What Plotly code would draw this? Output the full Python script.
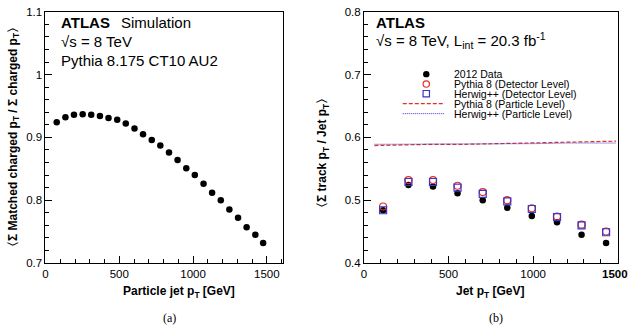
import plotly.graph_objects as go

# ---------------- data ----------------
# panel (a)
a_pt = [76, 135, 193, 252, 310, 369, 427, 486, 544, 603, 661, 720, 778,
        837, 895, 954, 1012, 1071, 1129, 1188, 1246, 1305, 1363, 1422, 1475]
a_ratio = [0.924, 0.932, 0.936, 0.937, 0.936, 0.934, 0.931, 0.928, 0.922,
           0.914, 0.905, 0.896, 0.887, 0.876, 0.864, 0.851, 0.840, 0.826,
           0.812, 0.800, 0.785, 0.772, 0.757, 0.745, 0.732]

# panel (b)
b_pt = [113, 263, 408, 553, 702, 847, 992, 1141, 1286, 1431]
b_data = [0.484, 0.524, 0.522, 0.511, 0.500, 0.488, 0.475, 0.465, 0.445, 0.432]
b_pythia_det = [0.490, 0.532, 0.532, 0.523, 0.513, 0.500, 0.487, 0.474, 0.461, 0.450]
b_herwig_det = [0.484, 0.529, 0.529, 0.520, 0.510, 0.498, 0.486, 0.473, 0.460, 0.449]

part_pt = [62, 200, 400, 600, 800, 1000, 1200, 1400, 1490]
b_pythia_part = [0.587, 0.588, 0.589, 0.589, 0.590, 0.591, 0.592, 0.593, 0.594]
b_herwig_part = [0.589, 0.589, 0.589, 0.590, 0.590, 0.590, 0.591, 0.591, 0.591]

legend_labels = ["2012 Data", "Pythia 8 (Detector Level)", "Herwig++ (Detector Level)",
                 "Pythia 8 (Particle Level)", "Herwig++ (Particle Level)"]

# ---------------- styling ----------------
W, H = 630, 330
SANS = "Liberation Sans, Arial, Helvetica, sans-serif"
SERIF = "Liberation Serif, Times New Roman, serif"
RED = "#e3302c"
BLUE = "#3b35c8"


def px(x):
    return x / W


def py(y):
    return 1 - y / H


fig = go.Figure()

# panel (a)
fig.add_trace(go.Scatter(x=a_pt, y=a_ratio, mode="markers", xaxis="x", yaxis="y",
                         marker=dict(color="black", size=6.5), showlegend=False))

# panel (b)
fig.add_trace(go.Scatter(x=part_pt, y=b_pythia_part, mode="lines", xaxis="x2", yaxis="y2",
                         line=dict(color=RED, width=1.2, dash="4px,2px"), showlegend=False,
                         name=legend_labels[3]))
fig.add_trace(go.Scatter(x=part_pt, y=b_herwig_part, mode="lines", xaxis="x2", yaxis="y2",
                         line=dict(color=BLUE, width=1, dash="1px,1px"), showlegend=False,
                         name=legend_labels[4]))
fig.add_trace(go.Scatter(x=b_pt, y=b_data, mode="markers", xaxis="x2", yaxis="y2",
                         marker=dict(color="black", size=6.5), showlegend=False,
                         name=legend_labels[0]))
fig.add_trace(go.Scatter(x=b_pt, y=b_pythia_det, mode="markers", xaxis="x2", yaxis="y2",
                         marker=dict(symbol="circle-open", color=RED, size=7,
                                     line=dict(width=1.2)), showlegend=False,
                         name=legend_labels[1]))
fig.add_trace(go.Scatter(x=b_pt, y=b_herwig_det, mode="markers", xaxis="x2", yaxis="y2",
                         marker=dict(symbol="square-open", color=BLUE, size=7,
                                     line=dict(width=1.2)), showlegend=False,
                         name=legend_labels[2]))

TICK_SIZE = 11.5
tickfont = dict(family=SANS, size=TICK_SIZE, color="black")


def xaxis(domain, rng, anchor):
    return dict(domain=domain, range=rng, anchor=anchor, showgrid=False, zeroline=False,
                showline=True, linecolor="black", linewidth=1, mirror=True,
                ticks="inside", ticklen=7, tickcolor="black", dtick=500, tick0=0,
                tickfont=tickfont, tickformat="d",
                minor=dict(ticks="inside", ticklen=4, dtick=100, tickcolor="black"))


def yaxis(domain, rng, anchor):
    return dict(domain=domain, range=rng, anchor=anchor, showgrid=False, zeroline=False,
                showline=True, linecolor="black", linewidth=1, mirror=True,
                ticks="inside", ticklen=7, tickcolor="black", dtick=0.1, tick0=0,
                tickfont=tickfont,
                minor=dict(ticks="inside", ticklen=4, dtick=0.02, tickcolor="black"))


ydom = [py(266.7), py(6)]
fig.update_layout(
    width=W, height=H, margin=dict(l=0, r=0, t=0, b=0),
    paper_bgcolor="white", plot_bgcolor="white",
    xaxis=xaxis([px(42.7), px(281.7)], [0, 1612], "y"),
    yaxis=yaxis(ydom, [0.7, 1.1], "x"),
    xaxis2=xaxis([px(362.7), px(617.7)], [0, 1500], "y2"),
    yaxis2=yaxis(ydom, [0.4, 0.8], "x2"),
    showlegend=False,
)

ann = []


def text(x, y, s, size, xanchor="left", family=SANS, angle=0):
    ann.append(dict(x=px(x), y=py(y), xref="paper", yref="paper", text=s, showarrow=False,
                    xanchor=xanchor, yanchor="middle", textangle=angle,
                    font=dict(family=family, size=size, color="black")))


# panel (a) labels
text(56, 16.7, "<b>ATLAS</b>", 15)
text(117, 16.7, "Simulation", 15)
text(56, 36.7, "√s = 8 TeV", 15)
text(56, 56.7, "Pythia 8.175 CT10 AU2", 15)
text(177, 297, "<b>Particle jet p<sub>T</sub> [GeV]</b>", 12, xanchor="center")
text(11, 136, "<b>〈Σ Matched charged p<sub>T</sub> / Σ charged p<sub>T</sub>〉</b>", 12,
     xanchor="center", angle=-90)
text(167, 324, "(a)", 12, xanchor="center", family=SERIF)

# panel (b) labels
text(372.5, 16.7, "<b>ATLAS</b>", 15)
text(372.5, 36, "√s = 8 TeV, L<sub>int</sub> = 20.3 fb<sup>-1</sup>", 15)
text(489.5, 297, "<b>Jet p<sub>T</sub> [GeV]</b>", 12, xanchor="center")
text(322, 152, "<b>〈Σ track p<sub>T</sub> / Jet p<sub>T</sub>〉</b>", 12,
     xanchor="center", angle=-90)
text(495, 324, "(b)", 12, xanchor="center", family=SERIF)
# last x tick label of panel (b) sits on the page edge (plotly hides it), so add it here
text(630, 278.5, "<b>1500</b>", TICK_SIZE, xanchor="right")

# manual legend (compact, like ROOT TLegend)
rows = [70.7, 81, 91, 101.3, 111.7]
for lbl, r in zip(legend_labels, rows):
    text(451.5, r, lbl, 10.5)

shapes = []
mx = px(425.3)
shapes.append(dict(type="circle", xref="paper", yref="paper", xsizemode="pixel",
                   ysizemode="pixel", xanchor=mx, yanchor=py(rows[0]),
                   x0=-3.2, x1=3.2, y0=-3.2, y1=3.2, fillcolor="black",
                   line=dict(color="black", width=0)))
shapes.append(dict(type="circle", xref="paper", yref="paper", xsizemode="pixel",
                   ysizemode="pixel", xanchor=mx, yanchor=py(rows[1]),
                   x0=-3.2, x1=3.2, y0=-3.2, y1=3.2,
                   line=dict(color=RED, width=1.2)))
shapes.append(dict(type="rect", xref="paper", yref="paper", xsizemode="pixel",
                   ysizemode="pixel", xanchor=mx, yanchor=py(rows[2]),
                   x0=-3.2, x1=3.2, y0=-3.2, y1=3.2,
                   line=dict(color=BLUE, width=1.2)))
shapes.append(dict(type="line", xref="paper", yref="paper", x0=px(401.7), x1=px(444),
                   y0=py(rows[3]), y1=py(rows[3]),
                   line=dict(color=RED, width=1.2, dash="4px,2px")))
shapes.append(dict(type="line", xref="paper", yref="paper", x0=px(401.7), x1=px(444),
                   y0=py(rows[4]), y1=py(rows[4]),
                   line=dict(color=BLUE, width=1, dash="1px,1px")))

fig.update_layout(annotations=ann, shapes=shapes)
fig.write_html("out.html")
